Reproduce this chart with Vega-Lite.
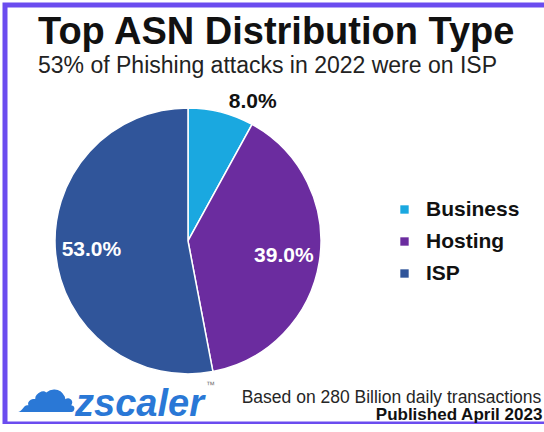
{
  "$schema": "https://vega.github.io/schema/vega-lite/v6.json",
  "width": 539,
  "height": 419,
  "autosize": {"type": "none"},
  "padding": {"left": 5, "top": 5, "right": 0, "bottom": 0},
  "background": "white",
  "title": {
    "text": "Top ASN Distribution Type",
    "subtitle": "53% of Phishing attacks in 2022 were on ISP",
    "anchor": "start",
    "frame": "group",
    "offset": -73,
    "dx": 33,
    "fontSize": 38,
    "fontWeight": "bold",
    "color": "#111111",
    "subtitleFontSize": 23,
    "subtitleColor": "#222222",
    "subtitlePadding": 3
  },
  "datasets": {
    "shares": [
      {"type": "Business", "share": 0.08},
      {"type": "Hosting", "share": 0.39},
      {"type": "ISP", "share": 0.53}
    ],
    "notes": [
      {"part": "source", "note": "Based on 280 Billion daily transactions"},
      {"part": "published", "note": "Published April 2023"},
      {"part": "brand", "note": "zscaler"},
      {"part": "tm", "note": "™"},
      {"part": "icon", "note": "☁"}
    ]
  },
  "layer": [
    {
      "data": {"name": "shares"},
      "mark": {"type": "arc", "outerRadius": 133, "stroke": "white", "strokeWidth": 1.5},
      "encoding": {
        "x": {"datum": 33.95, "type": "quantitative", "scale": {"domain": [0, 100]}, "axis": null},
        "y": {"datum": 56.3, "type": "quantitative", "scale": {"domain": [0, 100], "reverse": true}, "axis": null},
        "theta": {"field": "share", "type": "quantitative", "stack": true},
        "color": {
          "field": "type",
          "type": "nominal",
          "scale": {"domain": ["Business", "Hosting", "ISP"], "range": ["#1aa8e0", "#6b2c9f", "#30559a"]},
          "legend": {
            "title": null,
            "orient": "none",
            "legendX": 389,
            "legendY": 194,
            "symbolType": "square",
            "symbolSize": 70,
            "symbolStrokeWidth": 0,
            "labelFontSize": 21,
            "labelFontWeight": "bold",
            "labelColor": "#111111",
            "labelOffset": 11,
            "rowPadding": 10
          }
        }
      }
    },
    {
      "data": {"name": "shares"},
      "mark": {"type": "text", "radius": 97, "fontSize": 21, "fontWeight": "bold", "fill": "white"},
      "encoding": {
        "x": {"datum": 33.95, "type": "quantitative"},
        "y": {"datum": 56.3, "type": "quantitative"},
        "theta": {"field": "share", "type": "quantitative", "stack": true},
        "detail": {"field": "type", "type": "nominal"},
        "text": {"field": "share", "type": "quantitative", "format": ".1%"},
        "opacity": {"condition": {"test": "datum.type === 'Business'", "value": 0}, "value": 1}
      }
    },
    {
      "data": {"name": "shares"},
      "mark": {"type": "text", "radius": 153, "thetaOffset": 0.185, "fontSize": 21, "fontWeight": "bold", "fill": "#111111"},
      "encoding": {
        "x": {"datum": 33.95, "type": "quantitative"},
        "y": {"datum": 56.3, "type": "quantitative"},
        "theta": {"field": "share", "type": "quantitative", "stack": true},
        "detail": {"field": "type", "type": "nominal"},
        "text": {"field": "share", "type": "quantitative", "format": ".1%"},
        "opacity": {"condition": {"test": "datum.type === 'Business'", "value": 1}, "value": 0}
      }
    },
    {
      "data": {"name": "notes"},
      "transform": [{"filter": "datum.part === 'source'"}],
      "mark": {"type": "text", "align": "right", "baseline": "alphabetic", "fontSize": 17.5, "fill": "#262626"},
      "encoding": {
        "x": {"datum": 99.5, "type": "quantitative"},
        "y": {"datum": 95.0, "type": "quantitative"},
        "text": {"field": "note"}
      }
    },
    {
      "data": {"name": "notes"},
      "transform": [{"filter": "datum.part === 'published'"}],
      "mark": {"type": "text", "align": "right", "baseline": "alphabetic", "fontSize": 17, "fontWeight": "bold", "fill": "#111111"},
      "encoding": {
        "x": {"datum": 99.7, "type": "quantitative"},
        "y": {"datum": 99.1, "type": "quantitative"},
        "text": {"field": "note"}
      }
    },
    {
      "data": {"name": "notes"},
      "transform": [{"filter": "datum.part === 'brand'"}],
      "mark": {"type": "text", "align": "left", "baseline": "alphabetic", "fontSize": 38, "fontWeight": "bold", "fontStyle": "italic", "fill": "#2a78d6"},
      "encoding": {
        "x": {"datum": 13.0, "type": "quantitative"},
        "y": {"datum": 98.0, "type": "quantitative"},
        "text": {"field": "note"}
      }
    },
    {
      "data": {"name": "notes"},
      "transform": [{"filter": "datum.part === 'tm'"}],
      "mark": {"type": "text", "align": "left", "baseline": "alphabetic", "fontSize": 9, "fill": "#777777"},
      "encoding": {
        "x": {"datum": 37.3, "type": "quantitative"},
        "y": {"datum": 91.4, "type": "quantitative"},
        "text": {"field": "note"}
      }
    },
    {
      "data": {"name": "notes"},
      "transform": [{"filter": "datum.part === 'icon'"}],
      "mark": {"type": "text", "align": "center", "baseline": "middle", "fontSize": 62, "font": "DejaVu Sans", "fill": "#2a78d6"},
      "encoding": {
        "x": {"datum": 7.7, "type": "quantitative"},
        "y": {"datum": 92.6, "type": "quantitative"},
        "text": {"field": "note"}
      }
    }
  ],
  "config": {
    "font": "Liberation Sans",
    "view": {"stroke": "#6b4cef", "strokeWidth": 5, "fill": "white", "strokeDash": [539, 419, 958]}
  }
}
